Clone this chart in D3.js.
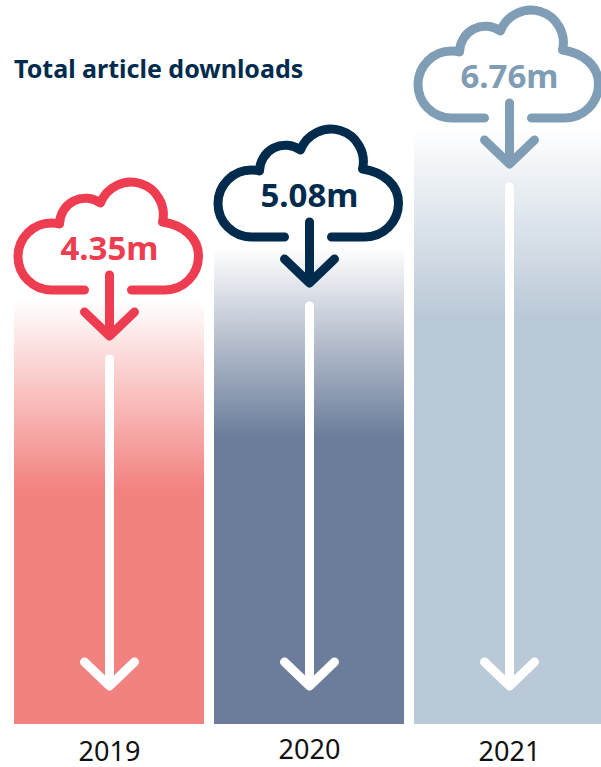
<!DOCTYPE html>
<html lang="en">

<head>
    <meta charset="UTF-8">
    <title>Total article downloads</title>
    <script src="https://d3js.org/d3.v7.min.js"></script>
    <style>
        body { margin: 0; background: #fff; }
        svg { display: block; }
    </style>
</head>

<body>
    <div id="chart"></div>
    <script>

        // values (millions of downloads)
        const years = ["2019", "2020", "2021"];
        const downloads = [4.35, 5.08, 6.76];
        const valueLabels = ["4.35m", "5.08m", "6.76m"];
        const iconColors = ["#ee3c50", "#012b4d", "#7f9db4"];
        const barColors = ["#f2827f", "#6b7d9b", "#bac9d7"];

        const width = 601, height = 767, bottom = 724;

        const svg = d3.select("#chart").append("svg")
            .attr("width", width)
            .attr("height", height);

        const defs = svg.append("defs");

        // band positions, the last bar runs off the right edge
        const x = d3.scaleBand()
            .domain(years)
            .range([14, 604])
            .paddingInner(0.05)
            .paddingOuter(0);

        // the original is not drawn to a linear scale, so each value has its own stop
        const y = d3.scaleLinear()
            .domain([0, 4.35, 5.08, 6.76])
            .range([bottom, 300, 247, 128]);

        // cloud and arrow shapes, relative to the bar's top centre
        const cloud = "M-25,-10 L-58,-10 A33,33 0 0 1 -58,-77 Q-53,-77 -50,-76 A26,26 0 0 1 -9,-97 A32.5,32.5 0 0 1 53,-78 C74,-75 89,-62 89,-44 C89,-25 74,-10 55,-10 L22,-10";
        const shaft = [[0, -25], [0, 34]];
        const head = [[-25, 12], [0, 36], [25, 12]];
        const line = d3.line();

        // fixed fade length at the top of each bar
        const fade = 190;

        const bars = svg.selectAll("g.bar")
            .data(years)
            .join("g")
            .attr("class", "bar");

        bars.each(function (d, i) {
            const g = d3.select(this);
            const top = y(downloads[i]);
            const cx = x(d) + x.bandwidth() / 2 + 0.5;

            const grad = defs.append("linearGradient")
                .attr("id", "fade" + d)
                .attr("gradientUnits", "userSpaceOnUse")
                .attr("x1", 0).attr("x2", 0)
                .attr("y1", top).attr("y2", top + fade);
            grad.append("stop").attr("offset", 0).attr("stop-color", barColors[i]).attr("stop-opacity", 0);
            grad.append("stop").attr("offset", 1).attr("stop-color", barColors[i]).attr("stop-opacity", 1);

            g.append("rect")
                .attr("x", x(d))
                .attr("y", top)
                .attr("width", x.bandwidth())
                .attr("height", bottom - top)
                .attr("fill", "url(#fade" + d + ")");

            // white arrow inside the bar
            const white = g.append("g")
                .attr("fill", "none")
                .attr("stroke", "#fff")
                .attr("stroke-width", 9)
                .attr("stroke-linecap", "round")
                .attr("stroke-linejoin", "round");
            white.append("path").attr("d", line([[cx, top + 59], [cx, bottom - 40]]));
            white.append("path").attr("d", line([[cx - 25, bottom - 62], [cx, bottom - 38], [cx + 25, bottom - 62]]));

            // cloud icon with value
            const icon = g.append("g")
                .attr("transform", `translate(${cx},${top})`)
                .attr("fill", "none")
                .attr("stroke", iconColors[i])
                .attr("stroke-width", 9)
                .attr("stroke-linecap", "round")
                .attr("stroke-linejoin", "round");
            icon.append("path").attr("d", cloud);
            icon.append("path").attr("d", line(shaft));
            icon.append("path").attr("d", line(head));

            g.append("text")
                .attr("x", cx)
                .attr("y", top - 40)
                .attr("text-anchor", "middle")
                .attr("font-family", "'Noto Sans', sans-serif")
                .attr("font-weight", 700)
                .attr("font-size", 33)
                .attr("fill", iconColors[i])
                .text(valueLabels[i]);

            g.append("text")
                .attr("x", cx)
                .attr("y", i === 1 ? 759 : 761)
                .attr("text-anchor", "middle")
                .attr("font-family", "'Noto Sans', sans-serif")
                .attr("font-size", 27)
                .attr("fill", "#111")
                .text(d);
        });

        svg.append("text")
            .attr("x", 14)
            .attr("y", 78)
            .attr("font-family", "'Noto Sans', sans-serif")
            .attr("font-weight", 700)
            .attr("font-size", 25)
            .attr("fill", "#012b4d")
            .text("Total article downloads");
    </script>
</body>

</html>
